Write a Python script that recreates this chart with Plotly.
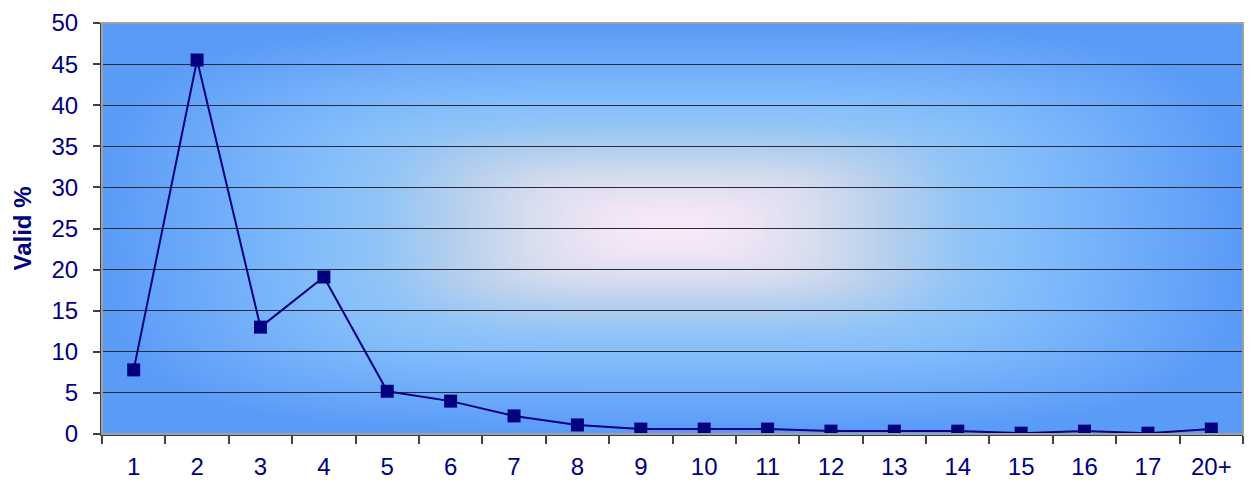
import base64, struct, zlib
import numpy as np
import plotly.graph_objects as go

categories = ["1", "2", "3", "4", "5", "6", "7", "8", "9", "10", "11", "12", "13", "14", "15", "16", "17", "20+"]
valid_pct = [7.8, 45.5, 13.0, 19.1, 5.2, 4.0, 2.2, 1.1, 0.6, 0.6, 0.6, 0.35, 0.35, 0.35, 0.1, 0.35, 0.1, 0.6]
y_ticks = [0, 5, 10, 15, 20, 25, 30, 35, 40, 45, 50]

NAVY = "#000080"


def png_data_uri(rgb):
    h, w, _ = rgb.shape
    raw = b"".join(b"\x00" + rgb[i].tobytes() for i in range(h))

    def chunk(tag, data):
        c = struct.pack(">I", len(data)) + tag + data
        return c + struct.pack(">I", zlib.crc32(tag + data) & 0xFFFFFFFF)

    png = b"\x89PNG\r\n\x1a\n"
    png += chunk(b"IHDR", struct.pack(">IIBBBBB", w, h, 8, 2, 0, 0, 0))
    png += chunk(b"IDAT", zlib.compress(raw, 9))
    png += chunk(b"IEND", b"")
    return "data:image/png;base64," + base64.b64encode(png).decode()


# rectangular "from centre" gradient background
W, H = 570, 206
xs = np.linspace(-1, 1, W)
ys = np.linspace(-1, 1, H)
X, Y = np.meshgrid(xs, ys)
p = 4.0
T = np.clip((np.abs(X) ** p + np.abs(Y) ** p) ** (1 / p), 0, 1)
stops_t = [0.0, 0.12, 0.25, 0.38, 0.5, 0.62, 0.8, 1.0]
stops_c = [(251, 234, 248), (240, 229, 246), (216, 222, 239), (182, 208, 238),
           (148, 198, 246), (132, 190, 251), (112, 174, 250), (90, 155, 248)]
img = np.zeros((H, W, 3), dtype=np.uint8)
for k in range(3):
    img[:, :, k] = np.interp(T, stops_t, [c[k] for c in stops_c]).astype(np.uint8)
bg_uri = png_data_uri(img)

fig = go.Figure()
fig.add_trace(go.Scatter(
    x=categories, y=valid_pct, mode="lines+markers",
    line=dict(color=NAVY, width=2),
    marker=dict(symbol="square", size=13, color=NAVY, line=dict(color=NAVY, width=0)),
    showlegend=False, hoverinfo="x+y",
))

fig.add_layout_image(dict(
    source=bg_uri, xref="x domain", yref="y domain", x=0, y=1,
    sizex=1, sizey=1, xanchor="left", yanchor="top",
    sizing="stretch", layer="below",
))

fig.add_shape(type="rect", xref="x domain", yref="y domain", x0=0, x1=1, y0=0, y1=1,
              line=dict(color="#a0a0a0", width=2), layer="above")

font_family = "Liberation Sans, Arial, sans-serif"
FS = 24
# page body has an 8px margin, so the figure starts at (8, 8)
fig.update_layout(
    width=1244, height=479,
    margin=dict(l=94, r=9, t=15, b=53, autoexpand=False),
    paper_bgcolor="white", plot_bgcolor="rgba(0,0,0,0)",
    font=dict(family=font_family, size=FS, color=NAVY),
    xaxis=dict(
        type="category", categoryorder="array", categoryarray=categories,
        range=[-0.5, len(categories) - 0.5], automargin=False,
        showgrid=False, zeroline=False,
        showline=True, linecolor="#404040", linewidth=2,
        ticks="outside", tickson="boundaries", ticklen=8, tickcolor="#404040", tickwidth=1.5,
        ticklabelstandoff=10,
        tickfont=dict(family=font_family, size=FS, color=NAVY),
    ),
    yaxis=dict(
        range=[0, 50], tickvals=y_ticks, ticktext=[str(v) for v in y_ticks],
        automargin=False,
        showgrid=True, gridcolor="#2a2a3a", gridwidth=1.3,
        zeroline=False,
        showline=True, linecolor="#404040", linewidth=2,
        ticks="outside", ticklen=7, tickcolor="#404040", tickwidth=1.5,
        ticklabelstandoff=10,
        tickfont=dict(family=font_family, size=FS, color=NAVY),
        title=dict(text="<b>Valid %</b>", font=dict(family=font_family, size=24, color=NAVY), standoff=13),
    ),
)

fig.write_html("out.html")
